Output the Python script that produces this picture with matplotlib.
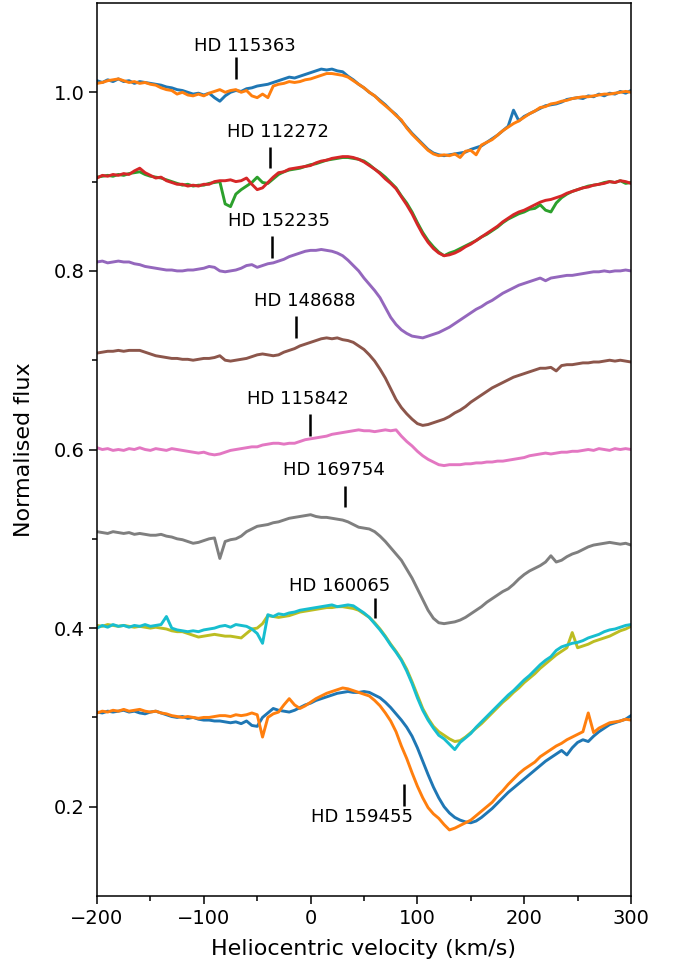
#!/usr/bin/env python3
'''Stacked line profiles of the eight stars, flux against heliocentric velocity'''
import numpy as np
import matplotlib
matplotlib.use('Agg')
import matplotlib.pyplot as plt

# velocity grid, every 5 km/s from -200 to 300
velocity = np.arange(-200, 301, 5)

# HD 115363 (two epochs)
hd115363_a = [1.013, 1.011, 1.014, 1.012, 1.015, 1.012, 1.013, 1.010, 1.012, 1.011,
              1.010, 1.009, 1.008, 1.006, 1.005, 1.003, 1.002, 1.000, 0.998, 0.999,
              0.997, 0.999, 0.994, 0.990, 0.996, 1.000, 1.002, 1.001, 1.004, 1.005,
              1.007, 1.008, 1.009, 1.011, 1.013, 1.015, 1.017, 1.016, 1.018, 1.020,
              1.022, 1.024, 1.026, 1.025, 1.026, 1.024, 1.023, 1.018, 1.014, 1.009,
              1.005, 1.000, 0.996, 0.991, 0.986, 0.980, 0.975, 0.968, 0.961, 0.954,
              0.948, 0.942, 0.936, 0.932, 0.930, 0.929, 0.930, 0.931, 0.932, 0.933,
              0.936, 0.938, 0.940, 0.944, 0.948, 0.952, 0.957, 0.962, 0.980, 0.968,
              0.973, 0.976, 0.979, 0.982, 0.985, 0.986, 0.987, 0.989, 0.992, 0.993,
              0.994, 0.993, 0.996, 0.995, 0.998, 0.996, 0.999, 0.998, 1.001, 0.999,
              1.002]
hd115363_b = [1.010, 1.011, 1.013, 1.014, 1.015, 1.013, 1.011, 1.012, 1.010, 1.011,
              1.009, 1.008, 1.005, 1.003, 1.002, 0.998, 1.000, 0.997, 0.996, 0.998,
              0.996, 0.999, 1.001, 1.003, 1.000, 1.002, 1.003, 1.000, 1.002, 0.996,
              0.994, 0.998, 0.994, 1.007, 1.009, 1.010, 1.012, 1.011, 1.012, 1.014,
              1.015, 1.017, 1.019, 1.021, 1.021, 1.020, 1.019, 1.017, 1.013, 1.009,
              1.005, 1.000, 0.996, 0.990, 0.985, 0.980, 0.974, 0.969, 0.960, 0.953,
              0.947, 0.941, 0.935, 0.931, 0.929, 0.930, 0.929, 0.931, 0.927, 0.934,
              0.935, 0.930, 0.941, 0.944, 0.947, 0.952, 0.957, 0.961, 0.965, 0.968,
              0.972, 0.976, 0.979, 0.983, 0.984, 0.987, 0.988, 0.990, 0.991, 0.993,
              0.994, 0.995, 0.995, 0.996, 0.997, 0.998, 0.998, 0.999, 1.000, 1.001,
              1.000]

# HD 112272
hd112272_a = [0.905, 0.906, 0.907, 0.906, 0.908, 0.907, 0.909, 0.910, 0.911, 0.908,
              0.906, 0.905, 0.904, 0.902, 0.900, 0.898, 0.896, 0.897, 0.895, 0.896,
              0.896, 0.898, 0.899, 0.900, 0.875, 0.872, 0.886, 0.891, 0.895, 0.899,
              0.905, 0.899, 0.898, 0.903, 0.908, 0.911, 0.913, 0.914, 0.915, 0.917,
              0.919, 0.920, 0.922, 0.924, 0.925, 0.926, 0.927, 0.927, 0.926, 0.925,
              0.923, 0.919, 0.914, 0.910, 0.905, 0.899, 0.893, 0.884, 0.876, 0.866,
              0.854, 0.843, 0.834, 0.827, 0.821, 0.817, 0.820, 0.822, 0.825, 0.828,
              0.831, 0.834, 0.838, 0.841, 0.845, 0.849, 0.854, 0.858, 0.861, 0.864,
              0.866, 0.869, 0.870, 0.874, 0.868, 0.866, 0.876, 0.882, 0.886, 0.889,
              0.891, 0.893, 0.895, 0.896, 0.897, 0.899, 0.900, 0.899, 0.901, 0.898,
              0.899]
hd112272_b = [0.904, 0.907, 0.906, 0.908, 0.907, 0.909, 0.908, 0.912, 0.915, 0.910,
              0.907, 0.904, 0.905, 0.901, 0.899, 0.897, 0.897, 0.895, 0.896, 0.895,
              0.897, 0.897, 0.900, 0.901, 0.901, 0.902, 0.900, 0.901, 0.904, 0.897,
              0.891, 0.893, 0.899, 0.905, 0.910, 0.911, 0.914, 0.915, 0.916, 0.917,
              0.918, 0.921, 0.923, 0.924, 0.926, 0.927, 0.928, 0.928, 0.927, 0.925,
              0.922, 0.918, 0.914, 0.909, 0.903, 0.898, 0.892, 0.883, 0.874, 0.864,
              0.852, 0.841, 0.832, 0.825, 0.820, 0.817, 0.818, 0.820, 0.823, 0.827,
              0.830, 0.834, 0.838, 0.842, 0.846, 0.850, 0.855, 0.859, 0.863, 0.866,
              0.868, 0.871, 0.874, 0.877, 0.879, 0.880, 0.882, 0.884, 0.887, 0.889,
              0.891, 0.893, 0.894, 0.896, 0.897, 0.898, 0.900, 0.899, 0.901, 0.900,
              0.898]

hd152235 = [0.810, 0.811, 0.809, 0.810, 0.811, 0.810, 0.810, 0.808, 0.807, 0.805,
            0.804, 0.803, 0.802, 0.801, 0.801, 0.800, 0.800, 0.801, 0.801, 0.802,
            0.803, 0.805, 0.804, 0.800, 0.799, 0.800, 0.801, 0.803, 0.806, 0.807,
            0.804, 0.806, 0.808, 0.809, 0.811, 0.813, 0.816, 0.818, 0.820, 0.822,
            0.823, 0.823, 0.824, 0.823, 0.822, 0.820, 0.817, 0.812, 0.806, 0.800,
            0.792, 0.785, 0.778, 0.770, 0.759, 0.748, 0.740, 0.734, 0.730, 0.727,
            0.726, 0.725, 0.727, 0.729, 0.731, 0.734, 0.737, 0.741, 0.745, 0.749,
            0.753, 0.757, 0.760, 0.764, 0.767, 0.771, 0.775, 0.778, 0.781, 0.784,
            0.786, 0.788, 0.790, 0.792, 0.789, 0.792, 0.793, 0.794, 0.795, 0.795,
            0.796, 0.797, 0.798, 0.799, 0.799, 0.800, 0.799, 0.800, 0.800, 0.801,
            0.800]

hd148688 = [0.708, 0.709, 0.710, 0.710, 0.711, 0.710, 0.711, 0.711, 0.711, 0.709,
            0.707, 0.705, 0.704, 0.703, 0.702, 0.702, 0.701, 0.701, 0.700, 0.701,
            0.702, 0.702, 0.703, 0.705, 0.700, 0.699, 0.700, 0.701, 0.702, 0.704,
            0.706, 0.707, 0.706, 0.705, 0.706, 0.709, 0.711, 0.713, 0.716, 0.718,
            0.720, 0.722, 0.724, 0.725, 0.724, 0.725, 0.723, 0.722, 0.720, 0.716,
            0.712, 0.706, 0.699, 0.690, 0.680, 0.668, 0.656, 0.647, 0.640, 0.634,
            0.629, 0.627, 0.628, 0.630, 0.632, 0.634, 0.637, 0.641, 0.644, 0.648,
            0.653, 0.657, 0.661, 0.665, 0.669, 0.672, 0.675, 0.678, 0.681, 0.683,
            0.685, 0.687, 0.689, 0.691, 0.691, 0.692, 0.688, 0.694, 0.695, 0.695,
            0.696, 0.697, 0.697, 0.698, 0.698, 0.699, 0.700, 0.699, 0.700, 0.699,
            0.698]

hd115842 = [0.602, 0.600, 0.601, 0.599, 0.600, 0.599, 0.601, 0.600, 0.602, 0.600,
            0.599, 0.601, 0.600, 0.599, 0.601, 0.600, 0.599, 0.598, 0.597, 0.596,
            0.597, 0.595, 0.594, 0.595, 0.597, 0.599, 0.600, 0.601, 0.602, 0.603,
            0.603, 0.605, 0.606, 0.607, 0.607, 0.606, 0.607, 0.607, 0.609, 0.611,
            0.612, 0.613, 0.614, 0.615, 0.617, 0.618, 0.619, 0.620, 0.621, 0.622,
            0.621, 0.621, 0.620, 0.621, 0.622, 0.621, 0.622, 0.615, 0.609, 0.604,
            0.598, 0.593, 0.589, 0.586, 0.583, 0.582, 0.583, 0.583, 0.583, 0.584,
            0.584, 0.585, 0.585, 0.586, 0.586, 0.587, 0.587, 0.588, 0.589, 0.590,
            0.591, 0.593, 0.594, 0.595, 0.596, 0.595, 0.596, 0.597, 0.597, 0.598,
            0.598, 0.599, 0.600, 0.599, 0.601, 0.600, 0.599, 0.601, 0.600, 0.601,
            0.600]

hd169754 = [0.508, 0.507, 0.506, 0.508, 0.507, 0.506, 0.507, 0.505, 0.506, 0.505,
            0.504, 0.504, 0.505, 0.503, 0.502, 0.500, 0.499, 0.497, 0.495, 0.496,
            0.498, 0.500, 0.501, 0.478, 0.497, 0.499, 0.500, 0.503, 0.508, 0.511,
            0.514, 0.515, 0.516, 0.518, 0.519, 0.521, 0.523, 0.524, 0.525, 0.526,
            0.527, 0.525, 0.524, 0.524, 0.523, 0.522, 0.521, 0.519, 0.516, 0.513,
            0.512, 0.511, 0.508, 0.503, 0.497, 0.490, 0.483, 0.476, 0.466, 0.456,
            0.444, 0.432, 0.420, 0.411, 0.406, 0.405, 0.406, 0.407, 0.409, 0.412,
            0.416, 0.420, 0.424, 0.429, 0.433, 0.437, 0.441, 0.444, 0.449, 0.455,
            0.460, 0.464, 0.467, 0.470, 0.474, 0.481, 0.474, 0.476, 0.480, 0.483,
            0.485, 0.488, 0.491, 0.493, 0.494, 0.495, 0.496, 0.495, 0.494, 0.495,
            0.493]

# HD 160065
hd160065_a = [0.403, 0.402, 0.404, 0.403, 0.402, 0.403, 0.402, 0.401, 0.402, 0.401,
              0.400, 0.401, 0.400, 0.399, 0.397, 0.396, 0.396, 0.394, 0.392, 0.390,
              0.391, 0.392, 0.393, 0.392, 0.391, 0.391, 0.390, 0.389, 0.394, 0.399,
              0.400, 0.405, 0.414, 0.413, 0.412, 0.413, 0.414, 0.416, 0.418, 0.419,
              0.420, 0.421, 0.422, 0.423, 0.423, 0.424, 0.424, 0.423, 0.422, 0.420,
              0.416, 0.412, 0.406, 0.399, 0.391, 0.382, 0.374, 0.365, 0.354, 0.340,
              0.325, 0.310, 0.299, 0.290, 0.284, 0.280, 0.276, 0.273, 0.274, 0.278,
              0.283, 0.288, 0.293, 0.299, 0.305, 0.311, 0.317, 0.322, 0.328, 0.333,
              0.339, 0.344, 0.349, 0.355, 0.360, 0.365, 0.370, 0.374, 0.378, 0.395,
              0.378, 0.380, 0.382, 0.385, 0.387, 0.389, 0.391, 0.394, 0.397, 0.399,
              0.402]
hd160065_b = [0.400, 0.403, 0.401, 0.404, 0.402, 0.403, 0.401, 0.403, 0.402, 0.404,
              0.402, 0.403, 0.404, 0.413, 0.400, 0.398, 0.397, 0.396, 0.397, 0.396,
              0.398, 0.399, 0.400, 0.402, 0.403, 0.401, 0.404, 0.403, 0.402, 0.399,
              0.394, 0.383, 0.415, 0.413, 0.416, 0.415, 0.417, 0.418, 0.420, 0.421,
              0.422, 0.423, 0.424, 0.425, 0.426, 0.424, 0.425, 0.426, 0.425, 0.421,
              0.417, 0.412, 0.405, 0.398, 0.390, 0.381, 0.373, 0.364, 0.352, 0.338,
              0.322, 0.308, 0.297, 0.288, 0.280, 0.276, 0.270, 0.264, 0.272, 0.277,
              0.282, 0.289, 0.295, 0.301, 0.307, 0.313, 0.319, 0.325, 0.330, 0.336,
              0.342, 0.347, 0.353, 0.359, 0.364, 0.368, 0.375, 0.379, 0.381, 0.383,
              0.384, 0.386, 0.389, 0.391, 0.393, 0.396, 0.398, 0.399, 0.401, 0.403,
              0.404]

# HD 159455
hd159455_a = [0.306, 0.305, 0.307, 0.306, 0.307, 0.308, 0.306, 0.307, 0.305, 0.304,
              0.306, 0.307, 0.305, 0.303, 0.301, 0.300, 0.301, 0.299, 0.300, 0.298,
              0.297, 0.297, 0.296, 0.296, 0.295, 0.294, 0.295, 0.293, 0.296, 0.291,
              0.290, 0.300, 0.305, 0.310, 0.308, 0.307, 0.306, 0.308, 0.311, 0.314,
              0.316, 0.319, 0.321, 0.323, 0.325, 0.327, 0.328, 0.329, 0.328, 0.328,
              0.329, 0.328, 0.325, 0.322, 0.317, 0.311, 0.304, 0.297, 0.289, 0.279,
              0.266, 0.251, 0.236, 0.222, 0.210, 0.200, 0.193, 0.188, 0.185, 0.183,
              0.182, 0.184, 0.188, 0.193, 0.198, 0.204, 0.210, 0.216, 0.221, 0.226,
              0.231, 0.236, 0.241, 0.246, 0.251, 0.255, 0.259, 0.263, 0.258, 0.266,
              0.272, 0.275, 0.273, 0.279, 0.284, 0.288, 0.292, 0.294, 0.296, 0.298,
              0.302]
hd159455_b = [0.305, 0.307, 0.306, 0.308, 0.307, 0.309, 0.307, 0.308, 0.309, 0.307,
              0.306, 0.307, 0.305, 0.304, 0.302, 0.301, 0.300, 0.301, 0.300, 0.299,
              0.300, 0.300, 0.301, 0.302, 0.302, 0.301, 0.303, 0.302, 0.303, 0.305,
              0.303, 0.278, 0.300, 0.304, 0.306, 0.314, 0.321, 0.314, 0.310, 0.313,
              0.317, 0.321, 0.324, 0.327, 0.329, 0.331, 0.333, 0.332, 0.330, 0.328,
              0.326, 0.324, 0.319, 0.313, 0.305, 0.296, 0.284, 0.268, 0.254, 0.238,
              0.223, 0.210, 0.199, 0.192, 0.187, 0.180, 0.174, 0.176, 0.179, 0.182,
              0.185, 0.190, 0.195, 0.200, 0.205, 0.212, 0.218, 0.225, 0.231, 0.237,
              0.242, 0.246, 0.250, 0.256, 0.260, 0.264, 0.268, 0.271, 0.275, 0.278,
              0.281, 0.284, 0.305, 0.283, 0.288, 0.291, 0.294, 0.295, 0.296, 0.298,
              0.297]

# star labels with the little marker line under/over each
labels = ['HD 115363', 'HD 112272', 'HD 152235', 'HD 148688',
          'HD 115842', 'HD 169754', 'HD 160065', 'HD 159455']
label_v = [-62, -30.5, -30, -5.5, -12, 21.5, 27, 48]
label_flux = [1.0515, 0.956, 0.856, 0.766, 0.6565, 0.577, 0.4467, 0.1883]
mark_v = [-70, -38, -36.5, -14, -1, 32, 60, 87]
mark_lo = [1.0145, 0.915, 0.814, 0.725, 0.615, 0.536, 0.4115, 0.201]
mark_hi = [1.039, 0.9385, 0.839, 0.749, 0.640, 0.559, 0.434, 0.226]


def main():
    plt.rcParams['font.family'] = ['DejaVu Sans']
    fig = plt.figure(figsize=(6.76, 9.67), dpi=100)
    ax = fig.add_axes([0.1435, 0.0734, 0.7899, 0.9235])

    spectra = [hd115363_a, hd115363_b, hd112272_a, hd112272_b, hd152235, hd148688,
               hd115842, hd169754, hd160065_a, hd160065_b, hd159455_a, hd159455_b]
    colours = ['C0', 'C1', 'C2', 'C3', 'C4', 'C5', 'C6', 'C7', 'C8', 'C9', 'C0', 'C1']
    for flux, col in zip(spectra, colours):
        ax.plot(velocity, flux, color=col, lw=2.1)

    # marker lines and names
    ax.vlines(mark_v, mark_lo, mark_hi, colors='k', lw=1.8)
    for name, x, y in zip(labels, label_v, label_flux):
        ax.text(x, y, name, ha='center', va='center', fontsize=13)

    ax.set_xlim(-200, 300)
    ax.set_ylim(0.1, 1.1)
    ax.set_xticks([-200, -100, 0, 100, 200, 300])
    ax.set_xticks(np.arange(-150, 300, 100), minor=True)
    ax.set_yticks([0.2, 0.4, 0.6, 0.8, 1.0])
    ax.set_yticks([0.3, 0.5, 0.7, 0.9], minor=True)
    ax.tick_params(which='major', length=5.5, width=1.1, labelsize=14)
    ax.tick_params(which='minor', length=3.5, width=1.1)
    for sp in ax.spines.values():
        sp.set_linewidth(1.1)

    ax.set_xlabel('Heliocentric velocity (km/s)', fontsize=16, labelpad=8)
    ax.set_ylabel('Normalised flux', fontsize=16, labelpad=14)

    plt.savefig('out.png', dpi=100)


if __name__ == "__main__":
    main()
